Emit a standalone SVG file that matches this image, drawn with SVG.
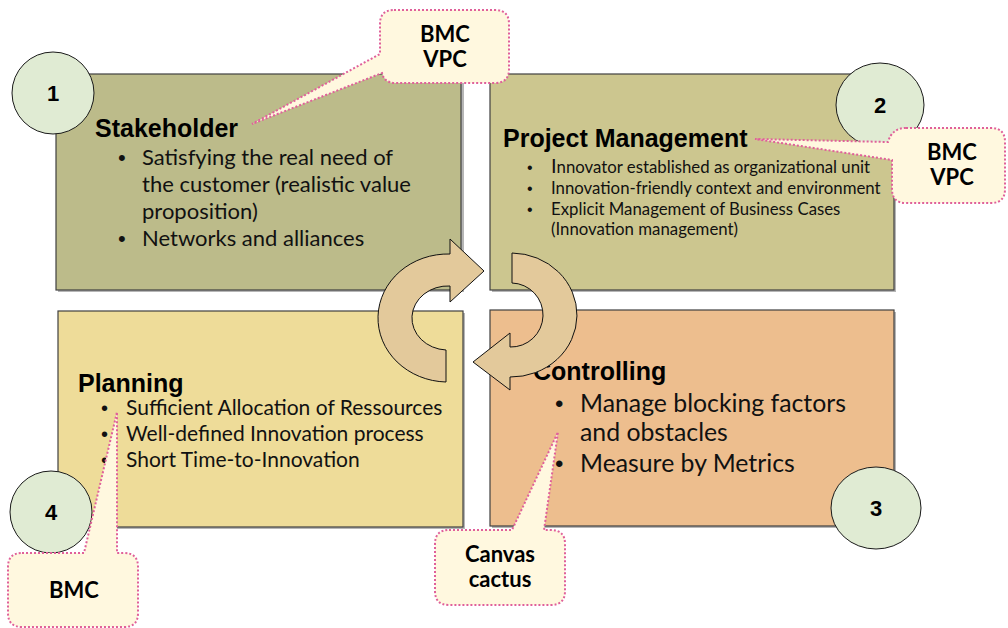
<svg xmlns="http://www.w3.org/2000/svg" width="1008" height="628" viewBox="0 0 1008 628">
<defs>
<style>
.box{stroke:#404040;stroke-width:1.2}
.shadow{fill:#7a7a7a;opacity:0.55}
.title{font-family:"Liberation Sans",Arial,sans-serif;font-weight:bold;font-size:25px;fill:#000}
.body{font-family:Lato,"Open Sans",sans-serif;fill:#111}
.bul{font-family:"Liberation Sans",Arial,sans-serif;fill:#111}
.num{font-family:"Liberation Sans",Arial,sans-serif;font-weight:bold;font-size:22px;fill:#000;text-anchor:middle}
.circ{fill:#E0EBD3;stroke:#1a1a1a;stroke-width:1}
.call{fill:#FFF8DF;stroke:#E0609A;stroke-width:2;stroke-dasharray:2 2}
.ctext{font-family:Lato,"Open Sans",sans-serif;font-weight:bold;font-size:22px;fill:#000;text-anchor:middle}
.arrow{fill:#E3C99B;stroke:#111;stroke-width:1}
</style>
</defs>
<rect width="1008" height="628" fill="#fff"/>

<g id="stakeholder">
<rect class="shadow" x="58" y="76" width="406" height="216"/>
<rect class="box" x="56" y="74" width="405" height="216" fill="#BCBB8A"/>
<text class="title" x="95" y="137">Stakeholder</text>
<g class="bul" font-size="22">
<text x="118" y="165">•</text>
<text x="118" y="246">•</text>
</g>
<g class="body" font-size="22">
<text x="142" y="165">Satisfying the real need of</text>
<text x="142" y="192">the customer (realistic value</text>
<text x="142" y="219">proposition)</text>
<text x="142" y="246">Networks and alliances</text>
</g>
</g>

<g id="project-management">
<rect class="shadow" x="492" y="76" width="404" height="216"/>
<rect class="box" x="490" y="74" width="404" height="216" fill="#CCC68F"/>
<text class="title" x="503" y="147">Project Management</text>
<g class="bul" font-size="16">
<text x="527" y="173">•</text>
<text x="527" y="194">•</text>
<text x="527" y="215">•</text>
</g>
<g class="body" font-size="16.8">
<text x="551" y="173"><tspan font-size="20">I</tspan>nnovator established as organizational unit</text>
<text x="551" y="194">Innovation-friendly context and environment</text>
<text x="551" y="215">Explicit Management of Business Cases</text>
<text x="551" y="235">(Innovation management)</text>
</g>
</g>

<g id="planning">
<rect class="shadow" x="60" y="313" width="405" height="216"/>
<rect class="box" x="58" y="311" width="405" height="216" fill="#EEDC99"/>
<text class="title" x="78" y="392">Planning</text>
<g class="bul" font-size="20">
<text x="101" y="415">•</text>
<text x="101" y="441">•</text>
<text x="101" y="467">•</text>
</g>
<g class="body" font-size="21">
<text x="126" y="415">Sufficient Allocation of Ressources</text>
<text x="126" y="441">Well-defined Innovation process</text>
<text x="126" y="467">Short Time-to-Innovation</text>
</g>
</g>

<g id="controlling">
<rect class="shadow" x="492" y="312" width="404" height="216"/>
<rect class="box" x="490" y="310" width="404" height="216" fill="#EDBE8E"/>
<text class="title" x="533" y="380">Controlling</text>
<g class="bul" font-size="24">
<text x="555" y="412">•</text>
<text x="555" y="472">•</text>
</g>
<g class="body" font-size="24.8">
<text x="580" y="412">Manage blocking factors</text>
<text x="580" y="441">and obstacles</text>
<text x="580" y="472">Measure by Metrics</text>
</g>
</g>

<g id="num-1"><ellipse class="circ" cx="53" cy="93" rx="41" ry="41"/><text class="num" x="53" y="101">1</text></g>
<g id="num-2"><ellipse class="circ" cx="880" cy="105" rx="44" ry="42"/><text class="num" x="880" y="113">2</text></g>
<g id="num-3"><ellipse class="circ" cx="876" cy="508" rx="45" ry="41"/><text class="num" x="876" y="516">3</text></g>
<g id="num-4"><ellipse class="circ" cx="51" cy="512" rx="41" ry="41"/><text class="num" x="51" y="520">4</text></g>

<g id="connectors">
<path class="arrow" d="M 450,254 L 450,239 L 484,271 L 450,302 L 450,286 A 36 32 0 0 0 446,350 L 446,382 A 70 64 0 0 1 450,254 Z"/>
<path class="arrow" d="M 512,253 A 66 62 0 0 1 510,377 L 510,390 L 473,362 L 510,333 L 510,347 A 32 32 0 0 0 512,283 Z"/>
</g>

<g id="callout-bmc-vpc-1">
<path class="call" d="M 394,10 H 495 Q 509,10 509,24 V 69 Q 509,83 495,83 H 396 Q 384,83 382,73 L 252,124 L 380,54 V 24 Q 380,10 394,10 Z"/>
<text class="ctext" x="445" y="42">BMC</text>
<text class="ctext" x="445" y="67">VPC</text>
</g>
<g id="callout-bmc-vpc-2">
<path class="call" d="M 906,128 H 991 Q 1005,128 1005,142 V 189 Q 1005,203 991,203 H 906 Q 892,203 892,189 V 160 L 755,139 L 888,142 Q 892,128 906,128 Z"/>
<text class="ctext" x="952" y="160">BMC</text>
<text class="ctext" x="952" y="185">VPC</text>
</g>
<g id="callout-canvas-cactus">
<path class="call" d="M 449,530 H 512 L 558,432 L 544,530 H 551 Q 565,530 565,544 V 591 Q 565,605 551,605 H 449 Q 435,605 435,591 V 544 Q 435,530 449,530 Z"/>
<text class="ctext" x="500" y="562">Canvas</text>
<text class="ctext" x="500" y="587">cactus</text>
</g>
<g id="callout-bmc">
<path class="call" d="M 22,553 H 84 L 117,412 L 117,553 H 124 Q 138,553 138,567 V 613 Q 138,627 124,627 H 22 Q 8,627 8,613 V 567 Q 8,553 22,553 Z"/>
<text class="ctext" x="74" y="598">BMC</text>
</g>
</svg>
